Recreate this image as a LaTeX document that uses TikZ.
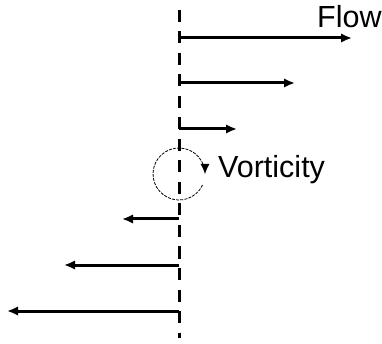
\documentclass[tikz,border=0pt]{standalone}
\usepackage{fontspec}
\setmainfont{Liberation Sans}
\usetikzlibrary{arrows.meta}

\begin{document}
\begin{tikzpicture}[
  x=1pt, y=-1pt,
  axis/.style={black, line width=3pt, dash pattern=on 12pt off 9.5pt},
  vel/.style={-{Latex[length=11pt, width=9.5pt]}, line width=3pt, black},
  spin/.style={black, line width=0.8pt, dash pattern=on 3pt off 1.2pt},
  spintip/.style={-{Latex[length=10pt, width=9pt]}, line width=0.8pt},
  lbl/.style={font=\fontsize{30.5}{36}\selectfont, inner sep=0pt, anchor=base west},
]
\useasboundingbox (0,0) rectangle (382,344);
% shear layer axis (dashed, vertical)
\coordinate (axtop) at (179,10);
\coordinate (axbot) at (179,338);
\draw[axis] (axtop) -- (axbot);
% velocity profile: positive above, negative below
\coordinate (u1s) at (179,38);  \coordinate (u1e) at (352,38);
\coordinate (u2s) at (179,83);  \coordinate (u2e) at (295,83);
\coordinate (u3s) at (179,129); \coordinate (u3e) at (237,129);
\coordinate (u4s) at (179,219); \coordinate (u4e) at (122,219);
\coordinate (u5s) at (179,265); \coordinate (u5e) at (64,265);
\coordinate (u6s) at (179,311); \coordinate (u6e) at (7,311);
\draw[vel] (u1s) -- (u1e);
\draw[vel] (u2s) -- (u2e);
\draw[vel] (u3s) -- (u3e);
\draw[vel] (u4s) -- (u4e);
\draw[vel] (u5s) -- (u5e);
\draw[vel] (u6s) -- (u6e);
% rotation sense at the centre of the layer (clockwise on screen, y is flipped)
\coordinate (vc) at (179,174);
\draw[spin] ([shift={(25:26)}]vc) arc[start angle=25, end angle=342, radius=26];
\draw[spintip] ([shift={(342:26)}]vc) arc[start angle=342, end angle=360, radius=26];
% labels
\node[lbl] (flow) at (317,28) {Flow};
\node[lbl] (vort) at (218,178) {Vorticity};
\end{tikzpicture}
\end{document}
